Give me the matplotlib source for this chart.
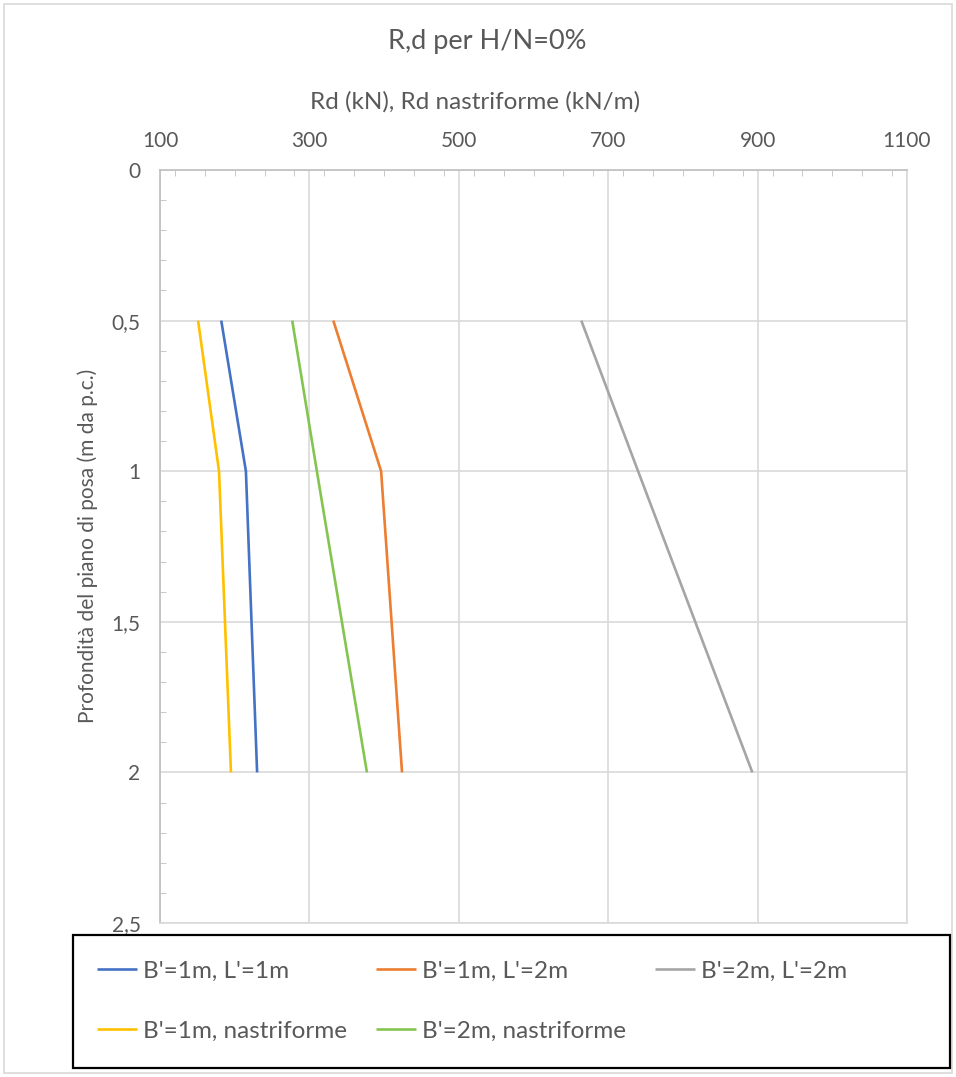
import matplotlib
matplotlib.use("Agg")
import matplotlib.pyplot as plt
from matplotlib.ticker import MultipleLocator, FuncFormatter
from matplotlib.patches import Rectangle

plt.rcParams['font.family'] = ['Lato', 'DejaVu Sans']

# profondità (m da p.c.)
depth = [0.5, 1.0, 2.0]

# Rd (kN) / Rd nastriforme (kN/m)
rd_b1_l1 = [182, 215, 230]
rd_b1_l2 = [332, 396, 424]
rd_b2_l2 = [664, 740, 893]
rd_b1_nastr = [151, 179, 195]
rd_b2_nastr = [277, 310, 377]

labels = ["B'=1m, L'=1m", "B'=1m, L'=2m", "B'=2m, L'=2m",
          "B'=1m, nastriforme", "B'=2m, nastriforme"]
colors = ['#4472C4', '#ED7D31', '#A5A5A5', '#FFC000', '#84C450']

x_ticks = [100, 300, 500, 700, 900, 1100]
y_ticks = [0, 0.5, 1, 1.5, 2, 2.5]

W, H = 956, 1077
fig = plt.figure(figsize=(W / 100, H / 100), dpi=100)
ax = fig.add_axes([160 / W, 1 - 923 / H, (907 - 160) / W, (923 - 170) / H])

series = [rd_b1_l1, rd_b1_l2, rd_b2_l2, rd_b1_nastr, rd_b2_nastr]
lines = []
for vals, lab, col in zip(series, labels, colors):
    ln, = ax.plot(vals, depth, color=col, lw=1.9, label=lab, solid_capstyle='butt')
    lines.append(ln)

ax.set_xlim(100, 1100)
ax.set_ylim(2.5, 0)
ax.xaxis.tick_top()
ax.set_xticks(x_ticks)
ax.set_yticks(y_ticks)
ax.xaxis.set_minor_locator(MultipleLocator(40))
ax.yaxis.set_minor_locator(MultipleLocator(0.1))
ax.yaxis.set_major_formatter(FuncFormatter(lambda v, p: ('%g' % v).replace('.', ',')))

ax.grid(True, which='major', color='#D9D9D9', lw=1.2)
ax.set_axisbelow(True)
for s in ax.spines.values():
    s.set_color('#D9D9D9')
    s.set_linewidth(1.2)
ax.spines['left'].set_color('#BFBFBF')
ax.spines['top'].set_color('#BFBFBF')

ax.tick_params(which='major', length=0, labelsize=15, labelcolor='#595959', pad=14)
ax.tick_params(which='minor', direction='in', length=4, color='#BFBFBF',
               top=True, bottom=False, left=True, right=False)

tc = '#595959'
fig.text(487 / W, 1 - 42 / H, 'R,d per H/N=0%', ha='center', va='center', fontsize=19.5, color=tc)
fig.text(475 / W, 1 - 102 / H, 'Rd (kN), Rd nastriforme (kN/m)', ha='center', va='center',
         fontsize=17.5, color=tc)
fig.text(88 / W, 1 - 546 / H, 'Profondità del piano di posa (m da p.c.)', rotation=90,
         ha='center', va='center', fontsize=15, color=tc)

# riquadro esterno del grafico
fig.add_artist(Rectangle((4 / W, 1 - 1073 / H), 948 / W, 1069 / H, transform=fig.transFigure,
                         fill=False, edgecolor='#D9D9D9', lw=1.2))
# riquadro legenda
fig.add_artist(Rectangle((73 / W, 1 - 1068 / H), (950 - 73) / W, (1068 - 935) / H,
                         transform=fig.transFigure, fill=False, edgecolor='black', lw=1.6))

order = [0, 3, 1, 4, 2]
fig.legend([lines[i] for i in order], [labels[i] for i in order], ncol=3, mode='expand',
           loc='center', bbox_to_anchor=(97 / W, 1 - 1001 / H, (847 - 97) / W, 0),
           frameon=False, fontsize=17.5, labelcolor=tc, handlelength=1.65, handletextpad=0.25,
           labelspacing=1.6, borderpad=0, borderaxespad=0)

fig.savefig('out.png', dpi=100)
